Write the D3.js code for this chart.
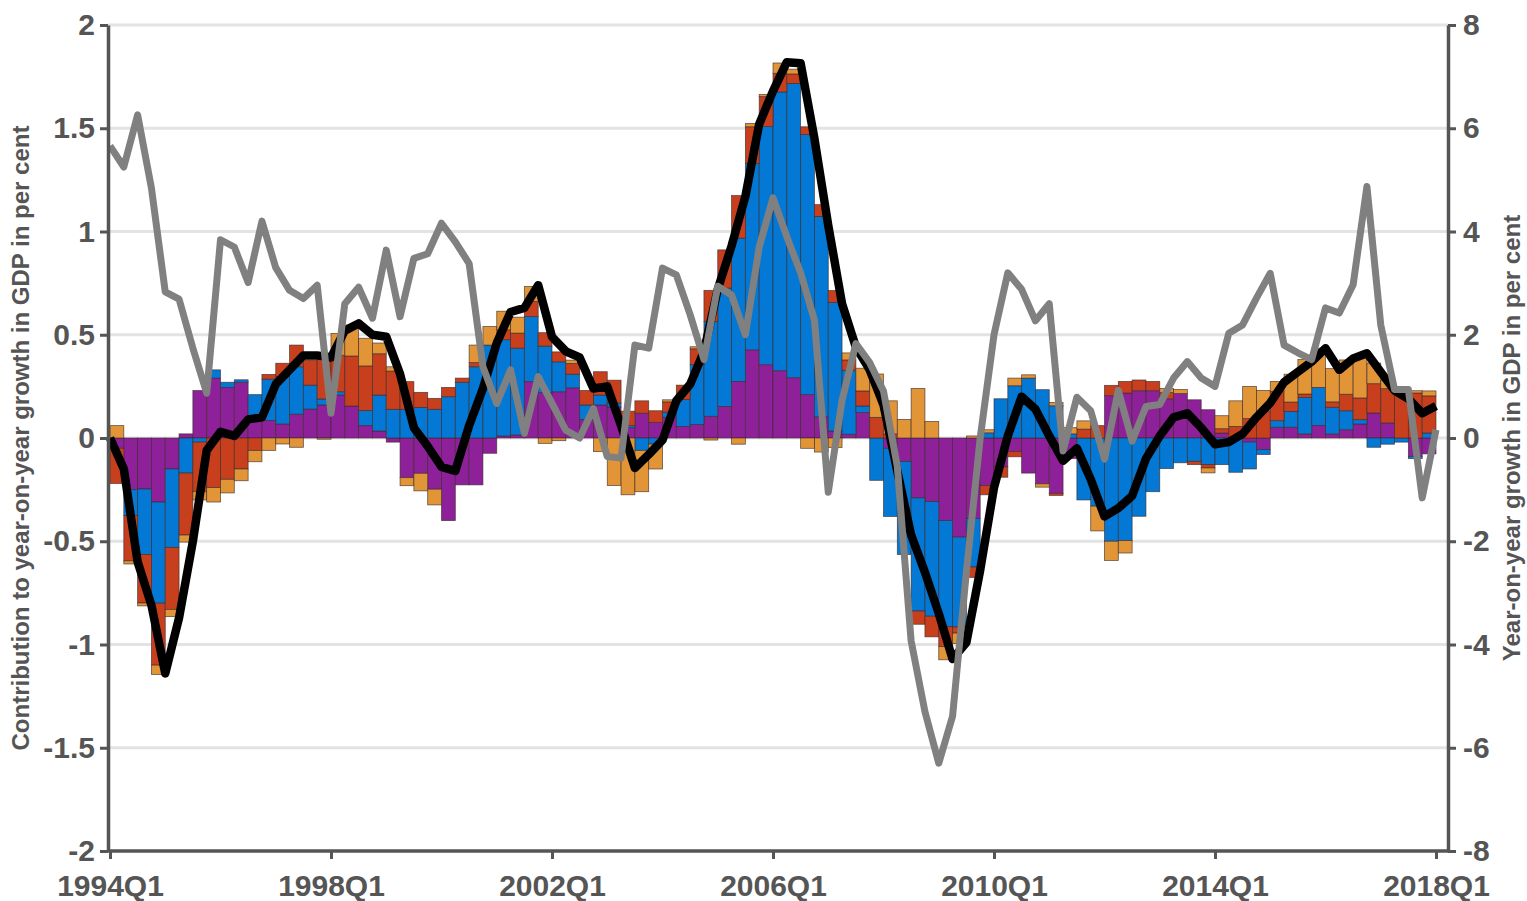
<!DOCTYPE html>
<html>
<head>
<meta charset="utf-8">
<title>GDP growth contributions</title>
<script src="https://cdn.jsdelivr.net/npm/d3@7/dist/d3.min.js"></script>
<style>
    body { margin: 0; background: #fff; }
    svg text { font-family: "Liberation Sans", Arial, sans-serif; font-weight: bold; fill: #555; }
</style>
</head>
<body>
<svg id="chart" width="1527" height="901"></svg>
<script>
/**
 * contribution chart, quarterly 1994Q1 - 2018Q1
 */

// Bars are between two quarter points, 96 of them
var purple = [-0.05, -0.25, -0.247, -0.31, -0.15, 0.02, 0.23, 0.29, 0.245, 0.27, 0.08, 0.085,
    0.068, 0.115, 0.14, 0.16, 0.208, 0.155, 0.06, 0.034, -0.02, -0.192, -0.171, -0.248,
    -0.4, -0.227, -0.227, -0.074, 0.01, 0.015, 0.273, 0.22, 0.224, 0.243, 0.09, 0.16,
    0.15, 0.05, 0.12, 0.076, 0.1, 0.056, 0.065, 0.105, 0.153, 0.274, 0.427, 0.355,
    0.326, 0.292, 0.21, 0.103, 0.034, 0.018, 0.123, 0, -0.05, -0.114, -0.29, -0.308,
    -0.4, -0.48, -0.39, -0.23, -0.14, -0.065, -0.17, -0.222, -0.268, -0.1, 0, 0,
    0.205, 0.218, 0.229, 0.229, 0.19, 0.215, 0.185, 0.137, 0.024, 0, -0.02, -0.056,
    0.052, 0.052, 0.02, 0.061, 0.02, 0.04, 0.068, 0.121, 0.073, 0, -0.089, -0.077];

var blue = [0, -0.125, -0.317, -0.49, -0.38, -0.17, -0.02, 0.04, 0.025, 0.012, 0.13, 0.2,
    0.229, 0.23, 0.116, 0.029, 0.016, 0, 0.073, 0.174, 0.139, 0.139, 0.148, 0.139,
    0.2, 0.27, 0.345, 0.45, 0.466, 0.42, 0.315, 0.225, 0.145, 0.066, 0.07, 0.048,
    0.02, 0.01, -0.06, -0.03, 0.025, 0.13, 0.29, 0.46, 0.573, 0.694, 0.903, 1.153,
    1.35, 1.425, 1.26, 0.97, 0.623, 0.31, 0.032, -0.205, -0.33, -0.45, -0.548, -0.555,
    -0.514, -0.435, -0.235, 0.025, 0.19, 0.253, 0.29, 0.234, 0.156, 0.02, -0.3, -0.33,
    -0.5, -0.497, -0.379, -0.26, -0.148, -0.12, -0.113, -0.129, -0.129, -0.166, -0.13, -0.024,
    0.032, 0.077, 0.177, 0.184, 0.129, 0.092, 0.021, -0.045, -0.03, -0.02, -0.011, 0.024];

var red = [-0.17, -0.22, -0.235, -0.3, -0.3, -0.3, -0.24, -0.24, -0.2, -0.15, -0.06, 0.023,
    0.065, 0.105, 0.121, 0.205, 0.177, 0.242, 0.216, 0.2, 0.185, 0.134, 0.073, 0.053,
    0.045, 0.02, 0.02, 0, 0.048, 0.073, 0.073, 0.065, 0.048, 0.052, 0.07, 0.113,
    0.11, 0.07, 0.06, 0.056, 0.05, 0.07, 0.077, 0.15, 0.185, 0.206, 0.177, 0.145,
    0.09, 0.046, 0.037, 0.057, 0.057, 0.05, 0.073, 0.1, 0.02, 0, -0.064, -0.1,
    -0.096, -0.03, -0.05, -0.045, -0.05, -0.026, 0, 0, -0.01, 0, 0.043, 0.06,
    0.05, 0.056, 0.052, 0.045, 0.03, 0, -0.016, -0.016, 0.021, 0.056, 0.094, 0.13,
    0.142, 0.045, 0.016, 0, 0.026, 0.08, 0.105, 0.142, 0.166, 0.21, 0.218, 0.18];

var orange = [0.06, -0.015, -0.014, -0.045, -0.035, -0.034, -0.04, -0.07, -0.066, -0.057, -0.055, -0.06,
    -0.029, -0.045, 0, -0.006, 0.105, 0.15, 0.134, 0.052, 0.021, -0.039, -0.085, -0.076,
    0, 0, 0.085, 0.09, 0.09, 0.077, 0.073, -0.026, -0.013, 0.016, 0, -0.066,
    -0.23, -0.275, -0.2, -0.12, 0.01, 0, 0.01, -0.01, 0, -0.03, 0.016, 0.011,
    0.05, 0.023, -0.05, -0.068, -0.046, 0.034, 0.11, 0.21, 0.16, 0.09, 0.24, 0.08,
    -0.064, -0.05, 0.01, 0.015, 0, 0.037, 0.016, -0.016, 0.016, 0.03, 0.04, -0.12,
    -0.093, -0.06, 0, 0, 0.02, 0.02, 0, -0.024, 0.063, 0.124, 0.156, 0.1,
    0.048, 0.135, 0.167, 0.19, 0.161, 0.166, 0.2, 0.1, 0.04, 0.03, 0.011, 0.024];

// Black line, left axis (97 quarters)
var contribTotal = [0, -0.15, -0.6, -0.81, -1.14, -0.87, -0.5, -0.06, 0.03, 0.01, 0.09, 0.1,
    0.26, 0.33, 0.4, 0.4, 0.39, 0.52, 0.555, 0.5, 0.49, 0.31, 0.05, -0.04,
    -0.14, -0.16, 0.06, 0.24, 0.46, 0.61, 0.63, 0.74, 0.49, 0.42, 0.39, 0.24,
    0.25, 0.06, -0.145, -0.08, -0.01, 0.18, 0.26, 0.42, 0.72, 0.93, 1.17, 1.52,
    1.68, 1.82, 1.815, 1.45, 1.03, 0.65, 0.44, 0.33, 0.16, -0.16, -0.47, -0.65,
    -0.85, -1.07, -0.99, -0.64, -0.24, 0.01, 0.2, 0.14, 0.01, -0.11, -0.05, -0.2,
    -0.38, -0.34, -0.28, -0.1, 0.01, 0.1, 0.12, 0.05, -0.03, -0.02, 0.02, 0.1,
    0.17, 0.27, 0.32, 0.37, 0.435, 0.33, 0.385, 0.41, 0.32, 0.23, 0.19, 0.12, 0.155];

// Grey line, right axis
var gdpGrowth = [5.66, 5.25, 6.26, 4.84, 2.83, 2.69, 1.74, 0.87, 3.84, 3.7, 3.01, 4.2,
    3.3, 2.86, 2.7, 2.96, 0.48, 2.6, 2.92, 2.32, 3.64, 2.35, 3.48, 3.57,
    4.16, 3.8, 3.38, 1.38, 0.67, 1.32, 0.09, 1.19, 0.67, 0.15, 0, 0.57,
    -0.36, -0.39, 1.8, 1.74, 3.29, 3.16, 2.39, 1.52, 2.94, 2.77, 2, 3.7,
    4.65, 3.9, 3.2, 2.28, -1.05, 0.73, 1.83, 1.46, 0.91, -0.55, -3.93, -5.3,
    -6.3, -5.39, -2.6, 0, 2, 3.2, 2.88, 2.27, 2.6, -0.25, 0.79, 0.53,
    -0.41, 0.92, -0.06, 0.61, 0.65, 1.16, 1.48, 1.16, 1, 2.03, 2.19, 2.71,
    3.19, 1.8, 1.65, 1.52, 2.52, 2.42, 2.97, 4.87, 2.19, 0.94, 0.94, -1.16, 0.16];

var xTickLabels = ["1994Q1", "1998Q1", "2002Q1", "2006Q1", "2010Q1", "2014Q1", "2018Q1"];
var leftTicks = [-2, -1.5, -1, -0.5, 0, 0.5, 1, 1.5, 2];
var rightTicks = [-8, -6, -4, -2, 0, 2, 4, 6, 8];

var seriesKeys = ["purple", "blue", "red", "orange"];
var seriesColors = { purple: "#8e2199", blue: "#0378d4", red: "#c83f1e", orange: "#e19537" };

// quarter names 1994Q1 .. 2018Q1
var quarters = [];
for (var yr = 1994; yr <= 2018; yr++) {
    for (var q = 1; q <= 4; q++) quarters.push(yr + "Q" + q);
}
quarters = quarters.slice(0, 97);

drawChart();

function drawChart() {
    var svg = d3.select("#chart");
    var plot = { left: 108, right: 1448, top: 25, bottom: 851 };
    var axisColor = "#555";

    var x = d3.scalePoint().domain(quarters).range([110, 1436]);
    var yLeft = d3.scaleLinear().domain([-2, 2]).range([plot.bottom, plot.top]);
    var yRight = d3.scaleLinear().domain([-8, 8]).range([plot.bottom, plot.top]);

    // grid
    svg.append("g")
        .selectAll("line")
        .data(leftTicks.filter(function (d) { return d > -2; }))
        .enter().append("line")
        .attr("x1", plot.left).attr("x2", plot.right)
        .attr("y1", function (d) { return yLeft(d); })
        .attr("y2", function (d) { return yLeft(d); })
        .attr("stroke", "#e3e3e3")
        .attr("stroke-width", 3);

    // stacked bars
    var rows = purple.map(function (d, i) {
        return { q: quarters[i], purple: purple[i], blue: blue[i], red: red[i], orange: orange[i] };
    });
    var stack = d3.stack().keys(seriesKeys).offset(d3.stackOffsetDiverging);
    var layers = stack(rows);

    svg.append("g")
        .selectAll("g")
        .data(layers)
        .enter().append("g")
        .attr("fill", function (d) { return seriesColors[d.key]; })
        .selectAll("rect")
        .data(function (d) { return d; })
        .enter().append("rect")
        .attr("x", function (d) { return x(d.data.q); })
        .attr("width", x.step())
        .attr("y", function (d) { return yLeft(Math.max(d[0], d[1])); })
        .attr("height", function (d) { return Math.abs(yLeft(d[0]) - yLeft(d[1])); })
        .attr("stroke", "#3a2a2a")
        .attr("stroke-opacity", 0.75)
        .attr("stroke-width", 0.8);

    // lines
    var lineLeft = d3.line()
        .x(function (d, i) { return x(quarters[i]); })
        .y(function (d) { return yLeft(d); });
    var lineRight = d3.line()
        .x(function (d, i) { return x(quarters[i]); })
        .y(function (d) { return yRight(d); });

    svg.append("path")
        .datum(contribTotal)
        .attr("d", lineLeft)
        .attr("fill", "none")
        .attr("stroke", "#000")
        .attr("stroke-width", 8.5)
        .attr("stroke-linejoin", "round");

    svg.append("path")
        .datum(gdpGrowth)
        .attr("d", lineRight)
        .attr("fill", "none")
        .attr("stroke", "#808080")
        .attr("stroke-width", 7)
        .attr("stroke-linejoin", "round");

    // axes
    var axisL = svg.append("g")
        .attr("transform", "translate(" + plot.left + ",0)")
        .call(d3.axisLeft(yLeft).tickValues(leftTicks).tickSize(8).tickSizeOuter(0).tickPadding(5)
            .tickFormat(function (d) { return String(d); }));

    var axisR = svg.append("g")
        .attr("transform", "translate(" + plot.right + ",0)")
        .call(d3.axisRight(yRight).tickValues(rightTicks).tickSize(8).tickSizeOuter(0).tickPadding(7)
            .tickFormat(function (d) { return String(d); }));

    var axisB = svg.append("g")
        .attr("transform", "translate(0," + plot.bottom + ")")
        .call(d3.axisBottom(x).tickValues(xTickLabels).tickSize(8).tickSizeOuter(0).tickPadding(16));

    [axisL, axisR, axisB].forEach(function (g) {
        g.select(".domain").attr("stroke", axisColor).attr("stroke-width", 3.5);
        g.selectAll(".tick line").attr("stroke", axisColor).attr("stroke-width", 3);
        g.selectAll(".tick text").attr("fill", axisColor).style("font-size", "30px");
    });
    // bottom axis line runs across the whole box
    axisB.select(".domain").attr("d", "M" + plot.left + ",0H" + plot.right);

    // titles
    svg.append("text")
        .attr("transform", "translate(29," + ((plot.top + plot.bottom) / 2) + ") rotate(-90)")
        .attr("text-anchor", "middle")
        .style("font-size", "24px")
        .text("Contribution to year-on-year growth in GDP in per cent");

    svg.append("text")
        .attr("transform", "translate(1520," + ((plot.top + plot.bottom) / 2) + ") rotate(-90)")
        .attr("text-anchor", "middle")
        .style("font-size", "24px")
        .text("Year-on-year growth in GDP in per cent");
}
</script>
</body>
</html>
